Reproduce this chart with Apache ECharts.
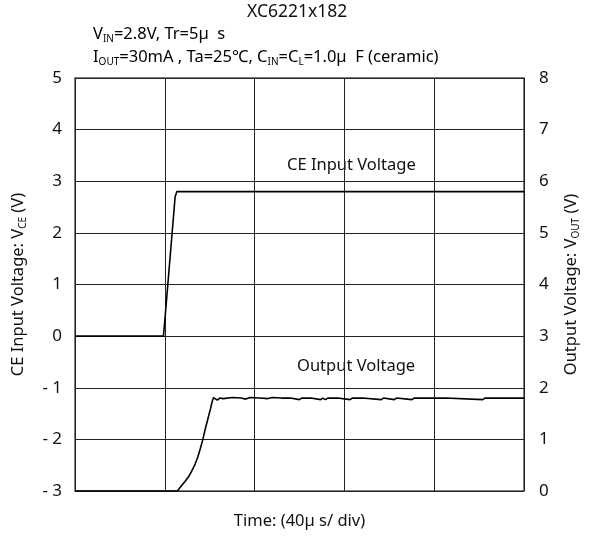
<!DOCTYPE html>
<html>
<head>
<meta charset="utf-8">
<script src="https://cdn.jsdelivr.net/npm/echarts@6/dist/echarts.min.js"></script>
<style>
  html, body { margin: 0; padding: 0; background: #fff; }
  #chart { width: 589px; height: 541px; }
</style>
</head>
<body>
<div id="chart"></div>
<script>
// Time base in microseconds (5 divisions of 40 µs)
const timeTicks = [0, 40, 80, 120, 160, 200];

// CE input voltage (left axis, V)
const ceTime = [0, 39.4, 40.2, 44.6, 45.4, 200];
const ceVolt = [0, 0, 0.4, 2.7, 2.8, 2.8];

// Output voltage (right axis, V)
const outTime = [0, 45.6, 47.0, 48.9, 50.5, 51.8, 53.3, 54.7, 55.8, 56.9, 57.6, 58.3, 59.1, 59.8,
  60.4, 60.9, 61.3, 61.7, 62.3, 63.4, 64.5, 66, 70, 74, 76, 78, 82, 86, 88, 92, 96, 99.9, 101,
  105, 109.4, 110.4, 111.6, 112.6, 117, 122.5, 123.5, 128, 136.4, 137.4, 142.2, 143.2, 150.1,
  151.1, 165, 181.6, 182.6, 200];
const outVolt = [0, 0, 0.08, 0.18, 0.27, 0.37, 0.5, 0.66, 0.82, 0.99, 1.12, 1.25, 1.38, 1.5,
  1.6, 1.70, 1.76, 1.81, 1.80, 1.76, 1.80, 1.79, 1.81, 1.80, 1.78, 1.81, 1.80, 1.79, 1.81, 1.80,
  1.80, 1.77, 1.80, 1.80, 1.77, 1.80, 1.77, 1.80, 1.80, 1.77, 1.80, 1.80, 1.77, 1.80, 1.77, 1.80,
  1.77, 1.80, 1.80, 1.77, 1.80, 1.80];

// Axis tick labels
const leftTicks = ['- 3', '- 2', '- 1', '0', '1', '2', '3', '4', '5'];
const rightTicks = ['0', '1', '2', '3', '4', '5', '6', '7', '8'];

const FONT = 'Noto Sans';
const FS = 16.5;
const subStyle = { fontSize: 10, verticalAlign: 'bottom', lineHeight: 20, fontFamily: FONT, color: '#111' };
const baseStyle = { fontSize: FS, lineHeight: 20, fontFamily: FONT, color: '#111' };

const chart = echarts.init(document.getElementById('chart'));

const ceData = ceTime.map((t, i) => [t, ceVolt[i]]);
const outData = outTime.map((t, i) => [t, outVolt[i]]);

chart.setOption({
  animation: false,
  backgroundColor: '#fff',
  textStyle: { fontFamily: FONT },
  grid: {
    left: 75, right: 57, top: 78, bottom: 50,
    show: true, borderColor: '#555', borderWidth: 1.5
  },
  xAxis: {
    type: 'value', min: timeTicks[0], max: timeTicks[timeTicks.length - 1], interval: 40,
    axisLine: { show: false }, axisTick: { show: false }, axisLabel: { show: false },
    splitLine: { show: true, lineStyle: { color: '#222', width: 1 } },
    name: 'Time: (40µ s/ div)', nameLocation: 'middle', nameGap: 22,
    nameTextStyle: { fontSize: FS, color: '#111', fontFamily: FONT }
  },
  yAxis: [
    {
      type: 'value', min: -3, max: 5, interval: 1, position: 'left',
      axisLine: { show: false }, axisTick: { show: false },
      axisLabel: {
        fontSize: 17, color: '#111', fontFamily: FONT, margin: 13,
        formatter: v => leftTicks[Math.round(v) + 3]
      },
      splitLine: { show: true, lineStyle: { color: '#222', width: 1 } },
      name: '{n|CE Input Voltage: V}{s|CE}{n| (V)}', nameLocation: 'middle', nameGap: 47, nameRotate: 90,
      nameTextStyle: { rich: { n: baseStyle, s: subStyle } }
    },
    {
      type: 'value', min: 0, max: 8, interval: 1, position: 'right',
      axisLine: { show: false }, axisTick: { show: false },
      axisLabel: {
        fontSize: 17, color: '#111', fontFamily: FONT, margin: 15,
        formatter: v => rightTicks[Math.round(v)]
      },
      splitLine: { show: false },
      name: '{n|Output Voltage: V}{s|OUT}{n| (V)}', nameLocation: 'middle', nameGap: 37, nameRotate: 90,
      nameTextStyle: { rich: { n: baseStyle, s: subStyle } }
    }
  ],
  series: [
    {
      name: 'CE Input Voltage', type: 'line', yAxisIndex: 0, data: ceData,
      showSymbol: false, symbol: 'none', lineStyle: { color: '#000', width: 1.6 }, z: 3
    },
    {
      name: 'Output Voltage', type: 'line', yAxisIndex: 1, data: outData,
      showSymbol: false, symbol: 'none', lineStyle: { color: '#000', width: 1.6 }, z: 3
    }
  ],
  graphic: [
    { type: 'text', left: 247, top: 3, style: { text: 'XC6221x182', fontSize: 17.5, fontFamily: FONT, fill: '#111' } },
    {
      type: 'text', left: 93, top: 26,
      style: {
        text: '{n|V}{s|IN}{n|=2.8V, Tr=5µ  s}',
        rich: { n: baseStyle, s: subStyle }
      }
    },
    {
      type: 'text', left: 93, top: 49,
      style: {
        text: '{n|I}{s|OUT}{n|=30mA , Ta=25℃, C}{s|IN}{n|=C}{s|L}{n|=1.0µ  F (ceramic)}',
        rich: { n: baseStyle, s: subStyle }
      }
    },
    { type: 'text', left: 287, top: 157, style: { text: 'CE Input Voltage', fontSize: FS, fontFamily: FONT, fill: '#111' } },
    { type: 'text', left: 297, top: 358, style: { text: 'Output Voltage', fontSize: FS, fontFamily: FONT, fill: '#111' } }
  ]
});
</script>
</body>
</html>
